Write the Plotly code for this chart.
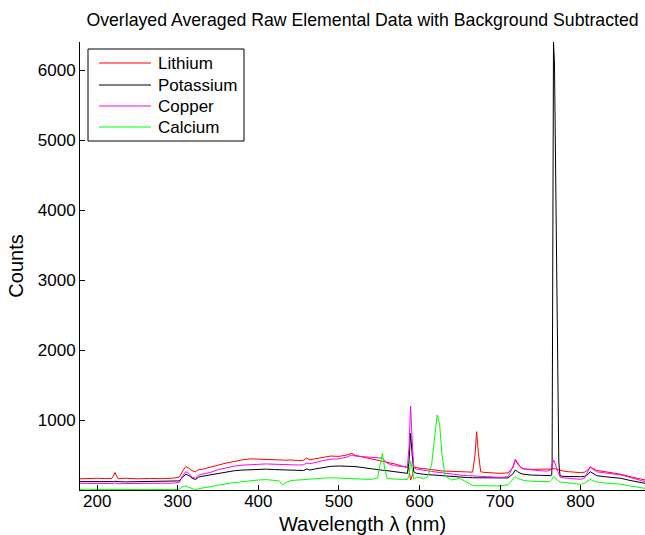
import plotly.graph_objects as go

wavelength = [178.6, 190, 200, 210, 218, 220, 222, 224, 226, 235, 250, 265, 280, 295, 302, 306, 310, 314, 318, 322, 326, 330,
              340, 350, 360, 370, 380, 390, 400, 410, 420, 426, 430, 434, 440, 450, 456, 460, 464, 470, 480, 490, 500, 510,
              516, 520, 530, 540, 548, 551, 554, 557, 560, 570, 580, 585, 587, 589, 591, 593, 596, 600, 605, 610, 615, 619,
              622, 625, 628, 632, 640, 650, 660, 666, 669, 671, 673, 676, 680, 690, 700, 710, 716, 719, 722, 726, 730, 740,
              750, 758, 762, 764.2, 764.7, 766.4, 767.6, 773, 773.6, 774.5, 778, 785, 795, 800,
              805, 809, 812, 816, 820, 830, 840, 850, 860, 870, 880]

lithium = [160, 165, 168, 163, 166, 200, 250, 200, 162, 168, 160, 165, 162, 170, 185, 270, 335, 310, 275, 262, 290, 295,
           320, 355, 385, 410, 430, 445, 443, 438, 435, 432, 428, 425, 430, 420, 425, 457, 430, 445, 470, 485, 480, 500,
           524, 495, 470, 445, 420, 415, 410, 405, 400, 370, 335, 324, 300, 143, 200, 330, 320, 310, 305, 300, 290, 282,
           280, 276, 272, 270, 265, 262, 258, 255, 500, 833, 550, 260, 252, 245, 238, 245, 320, 429, 370, 320, 300, 295,
           295, 290, 295, 300, 305, 310, 305, 290, 288, 285, 272, 262, 252, 248,
           255, 285, 329, 300, 280, 262, 245, 225, 195, 170, 143]

potassium = [120, 118, 122, 120, 118, 120, 125, 118, 120, 116, 118, 115, 118, 122, 130, 185, 225, 205, 165, 152, 185, 195,
             215, 240, 262, 275, 285, 292, 295, 298, 292, 288, 285, 283, 280, 276, 278, 300, 285, 300, 320, 338, 343, 340,
             345, 335, 320, 300, 290, 285, 282, 280, 276, 262, 245, 238, 400, 810, 500, 260, 240, 229, 225, 220, 215, 210,
             208, 205, 203, 200, 190, 181, 178, 175, 175, 175, 174, 173, 172, 170, 167, 172, 230, 286, 260, 235, 225, 212,
             210, 205, 205, 215, 400, 6400, 6100, 400, 230, 205, 195, 192, 188, 190,
             195, 220, 262, 230, 205, 190, 180, 167, 140, 115, 95]

copper = [95, 92, 90, 95, 92, 95, 100, 93, 90, 92, 95, 90, 92, 98, 110, 200, 262, 235, 180, 168, 215, 225,
          250, 290, 320, 340, 355, 365, 367, 372, 368, 364, 360, 358, 360, 357, 360, 385, 375, 395, 420, 440, 445, 470,
          500, 485, 475, 472, 465, 460, 455, 420, 380, 345, 330, 330, 600, 1200, 700, 320, 300, 295, 285, 275, 265, 258,
          255, 252, 248, 245, 230, 214, 205, 200, 198, 198, 197, 196, 195, 190, 181, 190, 330, 438, 380, 320, 300, 285,
          275, 270, 280, 320, 350, 429, 400, 210, 195, 185, 175, 168, 155, 152,
          170, 260, 333, 290, 260, 245, 232, 215, 185, 150, 119]

calcium = [10, 8, 12, 10, 8, 10, 10, 8, 9, 8, 7, 8, 6, 5, 15, 50, 58, 40, 15, 0, 20, 25,
           45, 70, 90, 105, 118, 135, 143, 148, 140, 130, 71, 105, 135, 143, 145, 150, 150, 155, 165, 176, 170, 162,
           160, 157, 155, 152, 170, 350, 524, 300, 165, 155, 152, 150, 200, 414, 300, 160, 180, 181, 160, 190, 350, 800,
           1071, 950, 500, 200, 143, 167, 110, 65, 60, 57, 58, 60, 62, 60, 57, 75, 150, 190, 165, 145, 135, 125,
           120, 115, 118, 150, 165, 190, 180, 125, 118, 115, 110, 100, 85, 81,
           95, 125, 152, 130, 115, 100, 95, 83, 60, 40, 24]

series_names = ["Lithium", "Potassium", "Copper", "Calcium"]
series_values = [lithium, potassium, copper, calcium]
series_colors = ["#ff0000", "#000000", "#ff00ff", "#00ff00"]

x_ticks = [200, 300, 400, 500, 600, 700, 800]
y_ticks = [1000, 2000, 3000, 4000, 5000, 6000]

FONT = "Liberation Sans, Arial, Helvetica, sans-serif"

# plot area in pixels: left 80, right 645, top 42, bottom 490
PL, PW, PT, PH = 80, 565, 42, 448


def px_x(p):
    return (p - PL) / PW


def px_y(p):
    return (PT + PH - p) / PH


fig = go.Figure()
for name, vals, col in zip(series_names, series_values, series_colors):
    fig.add_trace(go.Scatter(x=wavelength, y=vals, mode="lines", name=name,
                             line=dict(color=col, width=1), showlegend=False))

# manual legend (MATLAB style box)
shapes = [dict(type="rect", xref="paper", yref="paper",
               x0=px_x(88), x1=px_x(244), y0=px_y(141), y1=px_y(49),
               line=dict(color="black", width=1), fillcolor="white", layer="above")]
annotations = []
row_y = [63, 85, 106, 127]
for name, col, ry in zip(series_names, series_colors, row_y):
    shapes.append(dict(type="line", xref="paper", yref="paper",
                       x0=px_x(99), x1=px_x(151), y0=px_y(ry), y1=px_y(ry),
                       line=dict(color=col, width=1), layer="above"))
    annotations.append(dict(text=name, xref="paper", yref="paper", x=px_x(156), y=px_y(ry),
                            xanchor="left", yanchor="middle", showarrow=False,
                            font=dict(size=17, family=FONT, color="black")))

fig.update_layout(
    width=645, height=535,
    margin=dict(l=PL, r=0, t=PT, b=535 - PT - PH),
    paper_bgcolor="white", plot_bgcolor="white",
    font=dict(family=FONT, size=17, color="black"),
    title=dict(text="Overlayed Averaged Raw Elemental Data with Background Subtracted",
               x=0.5, xref="paper", xanchor="center",
               y=1 - 20 / 535, yref="container", yanchor="middle",
               font=dict(size=17.7, family=FONT, color="black")),
    showlegend=False,
    shapes=shapes,
    annotations=annotations,
    xaxis=dict(range=[178.6, 880], tickvals=x_ticks, ticks="inside", ticklen=5,
               tickcolor="black", showline=True, linecolor="black", linewidth=1,
               showgrid=False, zeroline=False, mirror=False, ticklabelstandoff=-4,
               title=dict(text="Wavelength λ (nm)", standoff=8)),
    yaxis=dict(range=[0, 6400], tickvals=y_ticks, ticks="inside", ticklen=5,
               tickcolor="black", showline=True, linecolor="black", linewidth=1,
               showgrid=False, zeroline=False, mirror=False,
               title=dict(text="Counts", standoff=8)),
)

fig.write_html("out.html")
